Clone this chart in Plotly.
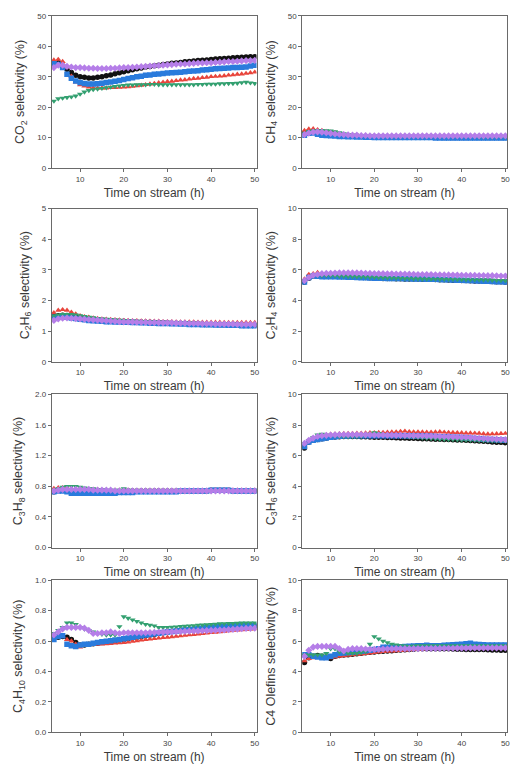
import plotly.graph_objects as go

hours = list(range(4, 51))

series_names = ["Catalyst A", "Catalyst B", "Catalyst C", "Catalyst D", "Catalyst E"]
series_colors = ["#111111", "#e8453c", "#2a7bdc", "#33a070", "#b57ee8"]
series_symbols = ["circle", "triangle-up", "square", "triangle-down", "diamond"]

# ---- CO2 selectivity (%)
co2_black = [34.5,34.6,33.6,32.5,31.4,30.5,30.0,29.8,29.6,29.6,
             29.8,30.0,30.3,30.6,31.0,31.3,31.6,32.0,32.3,32.6,
             32.9,33.2,33.4,33.6,33.8,34.0,34.2,34.4,34.5,34.7,
             34.9,35.0,35.2,35.3,35.4,35.5,35.7,35.8,35.9,36.0,
             36.1,36.2,36.3,36.4,36.5,36.6,36.6]
co2_red = [35.5,35.7,35.0,33.2,30.2,28.2,27.3,26.9,26.6,26.4,
           26.3,26.3,26.3,26.4,26.4,26.5,26.6,26.7,26.8,27.0,
           27.2,27.4,27.6,27.8,28.0,28.2,28.4,28.5,28.7,28.9,
           29.0,29.2,29.4,29.5,29.7,29.8,30.0,30.1,30.2,30.3,
           30.5,30.6,30.8,30.9,31.1,31.3,31.5]
co2_blue = [34.3,34.0,33.0,30.8,29.5,28.6,28.1,27.8,27.6,27.6,
            27.7,27.9,28.1,28.3,28.5,28.8,29.1,29.4,29.7,30.0,
            30.2,30.5,30.6,30.8,30.9,31.1,31.2,31.3,31.4,31.5,
            31.6,31.8,31.9,32.0,32.2,32.3,32.5,32.6,32.7,32.8,
            32.9,33.0,33.0,33.1,33.2,33.5,33.8]
co2_green = [22.0,22.8,23.0,23.2,23.4,23.7,24.3,25.0,25.5,25.8,
             26.0,26.2,26.4,26.6,26.8,27.0,27.2,27.3,27.3,27.4,
             27.4,27.4,27.5,27.5,27.4,27.4,27.4,27.4,27.4,27.4,
             27.4,27.4,27.4,27.5,27.5,27.6,27.6,27.6,27.7,27.7,
             27.8,27.8,27.9,28.1,28.2,28.0,27.8]
co2_purple = [33.0,33.8,33.8,33.4,33.2,33.0,33.0,32.9,32.8,32.8,
              32.7,32.7,32.7,32.8,32.8,32.9,33.0,33.0,33.1,33.2,
              33.3,33.4,33.5,33.6,33.7,33.8,33.9,34.0,34.1,34.2,
              34.2,34.3,34.4,34.5,34.5,34.6,34.6,34.7,34.8,34.9,
              35.0,35.0,35.1,35.2,35.3,35.3,35.4]

# ---- CH4 selectivity (%)
ch4_black = [11.6,12.0,12.1,12.0,11.8,11.6,11.4,11.2,11.0,10.8,
             10.7,10.6,10.5,10.4,10.3,10.3,10.2,10.2,10.2,10.1,
             10.1,10.1,10.1,10.1,10.1,10.1,10.1,10.1,10.1,10.1,
             10.1,10.1,10.0,10.0,10.0,10.0,10.0,10.0,10.0,10.0,
             10.0,10.0,10.0,10.0,10.0,10.0,10.0]
ch4_red = [12.3,12.8,12.9,12.6,12.3,12.0,11.8,11.6,11.3,11.1,
           10.9,10.8,10.7,10.6,10.6,10.5,10.5,10.5,10.4,10.4,
           10.4,10.4,10.3,10.3,10.3,10.3,10.3,10.3,10.3,10.3,
           10.3,10.3,10.3,10.3,10.3,10.3,10.3,10.3,10.3,10.3,
           10.3,10.3,10.3,10.3,10.3,10.3,10.3]
ch4_blue = [10.8,11.4,11.5,11.1,10.8,10.7,10.6,10.5,10.4,10.4,
            10.3,10.3,10.2,10.2,10.1,10.1,10.0,10.0,10.0,10.0,
            10.0,10.0,10.0,10.0,10.0,10.0,10.0,10.0,10.0,10.0,
            9.9,9.9,9.9,9.9,9.9,9.9,9.9,9.9,9.9,9.9,
            9.9,9.9,9.9,9.9,9.9,9.9,9.9]
ch4_green = [11.5,12.0,12.3,12.4,12.4,12.3,12.2,12.0,11.6,11.3,
             11.0,10.8,10.7,10.6,10.5,10.5,10.5,10.4,10.4,10.4,
             10.3,10.3,10.3,10.3,10.3,10.3,10.3,10.3,10.3,10.3,
             10.3,10.3,10.3,10.3,10.3,10.3,10.3,10.3,10.3,10.3,
             10.2,10.2,10.2,10.2,10.2,10.2,10.2]
ch4_purple = [11.0,11.5,11.8,11.9,11.8,11.6,11.4,11.2,11.1,11.0,
              10.9,10.8,10.8,10.7,10.7,10.6,10.6,10.6,10.6,10.6,
              10.6,10.6,10.6,10.6,10.6,10.6,10.6,10.6,10.6,10.6,
              10.6,10.6,10.6,10.6,10.6,10.6,10.6,10.6,10.6,10.6,
              10.6,10.6,10.6,10.6,10.6,10.6,10.6]

# ---- C2H6 selectivity (%)
c2h6_black = [1.48,1.50,1.52,1.51,1.49,1.47,1.45,1.43,1.41,1.39,
              1.37,1.36,1.35,1.34,1.33,1.32,1.32,1.31,1.31,1.30,
              1.30,1.29,1.29,1.28,1.28,1.27,1.27,1.26,1.26,1.25,
              1.25,1.24,1.24,1.23,1.23,1.22,1.22,1.22,1.21,1.21,
              1.21,1.20,1.20,1.20,1.19,1.19,1.19]
c2h6_red = [1.60,1.68,1.70,1.68,1.62,1.56,1.50,1.47,1.45,1.43,
            1.41,1.40,1.39,1.38,1.37,1.36,1.35,1.35,1.34,1.34,
            1.33,1.33,1.32,1.32,1.32,1.31,1.31,1.31,1.30,1.30,
            1.30,1.30,1.30,1.29,1.29,1.29,1.29,1.29,1.29,1.28,
            1.28,1.28,1.28,1.28,1.28,1.28,1.28]
c2h6_blue = [1.45,1.46,1.46,1.45,1.43,1.41,1.39,1.37,1.35,1.34,
             1.33,1.32,1.31,1.31,1.30,1.30,1.29,1.29,1.28,1.28,
             1.27,1.27,1.26,1.26,1.25,1.25,1.25,1.24,1.24,1.23,
             1.23,1.22,1.22,1.22,1.21,1.21,1.21,1.20,1.20,1.20,
             1.19,1.19,1.19,1.18,1.18,1.18,1.18]
c2h6_green = [1.50,1.53,1.55,1.55,1.55,1.53,1.51,1.48,1.46,1.44,
              1.42,1.40,1.39,1.38,1.37,1.36,1.35,1.34,1.33,1.32,
              1.32,1.31,1.30,1.30,1.29,1.28,1.28,1.27,1.27,1.26,
              1.26,1.26,1.25,1.25,1.25,1.24,1.24,1.24,1.23,1.23,
              1.23,1.23,1.22,1.22,1.22,1.22,1.22]
c2h6_purple = [1.35,1.40,1.42,1.43,1.42,1.41,1.40,1.39,1.38,1.37,
               1.36,1.35,1.34,1.33,1.32,1.31,1.30,1.30,1.30,1.29,
               1.29,1.29,1.28,1.28,1.28,1.27,1.27,1.27,1.26,1.26,
               1.26,1.25,1.25,1.25,1.24,1.24,1.24,1.23,1.23,1.23,
               1.23,1.23,1.22,1.22,1.22,1.22,1.22]

# ---- C2H4 selectivity (%)
c2h4_black = [5.20,5.45,5.60,5.62,5.62,5.61,5.60,5.59,5.58,5.57,
              5.56,5.55,5.54,5.52,5.50,5.48,5.46,5.45,5.44,5.43,
              5.43,5.42,5.42,5.41,5.41,5.40,5.40,5.39,5.39,5.38,
              5.37,5.36,5.35,5.34,5.33,5.32,5.31,5.30,5.29,5.28,
              5.27,5.26,5.25,5.24,5.23,5.22,5.20]
c2h4_red = [5.40,5.70,5.75,5.82,5.75,5.70,5.66,5.64,5.62,5.60,
            5.58,5.56,5.55,5.54,5.52,5.50,5.49,5.48,5.47,5.46,
            5.45,5.44,5.43,5.42,5.41,5.40,5.40,5.39,5.39,5.38,
            5.38,5.37,5.37,5.36,5.36,5.35,5.35,5.34,5.34,5.33,
            5.33,5.32,5.32,5.31,5.31,5.30,5.30]
c2h4_blue = [5.20,5.50,5.60,5.58,5.55,5.55,5.55,5.55,5.54,5.53,
             5.52,5.51,5.50,5.49,5.48,5.47,5.46,5.45,5.45,5.44,
             5.44,5.43,5.43,5.42,5.42,5.41,5.40,5.40,5.39,5.39,
             5.38,5.37,5.36,5.35,5.34,5.33,5.32,5.31,5.30,5.29,
             5.27,5.26,5.25,5.24,5.23,5.22,5.20]
c2h4_green = [5.30,5.50,5.60,5.62,5.62,5.62,5.61,5.60,5.59,5.58,
              5.57,5.56,5.55,5.54,5.53,5.52,5.51,5.50,5.49,5.48,
              5.47,5.46,5.45,5.44,5.43,5.42,5.42,5.41,5.41,5.40,
              5.40,5.39,5.39,5.38,5.38,5.37,5.37,5.36,5.36,5.35,
              5.35,5.34,5.34,5.33,5.32,5.31,5.30]
c2h4_purple = [5.30,5.50,5.65,5.70,5.75,5.77,5.78,5.79,5.80,5.80,
               5.80,5.80,5.80,5.79,5.78,5.77,5.76,5.75,5.75,5.74,
               5.74,5.73,5.73,5.72,5.72,5.71,5.70,5.70,5.69,5.69,
               5.68,5.68,5.67,5.67,5.66,5.66,5.65,5.65,5.64,5.64,
               5.63,5.63,5.62,5.62,5.61,5.60,5.60]

# ---- C3H8 selectivity (%)
c3h8_black = [0.73,0.75,0.75,0.75,0.74,0.74,0.74,0.74,0.74,0.74,
              0.74,0.74,0.73,0.73,0.73,0.73,0.74,0.74,0.74,0.74,
              0.74,0.74,0.74,0.74,0.74,0.74,0.74,0.74,0.74,0.74,
              0.74,0.74,0.74,0.74,0.74,0.74,0.75,0.75,0.75,0.75,
              0.75,0.74,0.74,0.74,0.74,0.74,0.74]
c3h8_red = [0.77,0.78,0.78,0.78,0.77,0.77,0.77,0.76,0.76,0.76,
            0.76,0.75,0.75,0.75,0.75,0.75,0.75,0.75,0.74,0.74,
            0.74,0.74,0.74,0.74,0.74,0.74,0.74,0.74,0.74,0.74,
            0.74,0.74,0.74,0.74,0.74,0.74,0.75,0.75,0.75,0.75,
            0.75,0.75,0.75,0.75,0.75,0.75,0.75]
c3h8_blue = [0.73,0.74,0.74,0.73,0.71,0.71,0.71,0.71,0.71,0.71,
             0.71,0.71,0.71,0.71,0.71,0.72,0.72,0.72,0.72,0.73,
             0.73,0.73,0.73,0.73,0.73,0.73,0.73,0.73,0.73,0.74,
             0.74,0.74,0.74,0.74,0.74,0.74,0.75,0.75,0.75,0.75,
             0.75,0.74,0.74,0.74,0.74,0.74,0.74]
c3h8_green = [0.75,0.77,0.79,0.80,0.80,0.80,0.79,0.78,0.77,0.77,
              0.76,0.76,0.75,0.75,0.75,0.75,0.77,0.75,0.74,0.74,
              0.74,0.74,0.74,0.74,0.74,0.74,0.74,0.74,0.74,0.74,
              0.74,0.74,0.74,0.74,0.74,0.74,0.74,0.74,0.74,0.74,
              0.74,0.74,0.74,0.74,0.74,0.74,0.74]
c3h8_purple = [0.74,0.75,0.76,0.76,0.76,0.76,0.76,0.76,0.76,0.75,
               0.75,0.75,0.75,0.75,0.74,0.74,0.74,0.74,0.74,0.74,
               0.74,0.74,0.74,0.74,0.74,0.74,0.74,0.74,0.74,0.74,
               0.74,0.74,0.74,0.74,0.74,0.74,0.74,0.74,0.74,0.74,
               0.74,0.74,0.74,0.74,0.74,0.74,0.74]

# ---- C3H6 selectivity (%)
c3h6_black = [6.50,6.90,7.00,7.05,7.10,7.15,7.20,7.22,7.24,7.25,
              7.25,7.25,7.25,7.24,7.23,7.22,7.21,7.20,7.20,7.19,
              7.18,7.17,7.16,7.15,7.14,7.13,7.12,7.11,7.10,7.09,
              7.08,7.07,7.06,7.05,7.04,7.03,7.02,7.00,6.99,6.98,
              6.96,6.94,6.92,6.90,6.88,6.87,6.85]
c3h6_red = [6.70,6.95,7.10,7.20,7.30,7.35,7.40,7.42,7.43,7.44,
            7.45,7.45,7.46,7.47,7.48,7.50,7.50,7.51,7.52,7.53,
            7.54,7.55,7.58,7.60,7.57,7.55,7.55,7.54,7.53,7.53,
            7.54,7.56,7.53,7.52,7.51,7.50,7.49,7.48,7.48,7.47,
            7.46,7.43,7.41,7.42,7.43,7.44,7.45]
c3h6_blue = [6.60,6.90,7.00,7.05,7.10,7.15,7.20,7.24,7.26,7.28,
             7.29,7.30,7.30,7.30,7.30,7.30,7.30,7.30,7.30,7.30,
             7.30,7.30,7.30,7.30,7.29,7.29,7.28,7.28,7.27,7.26,
             7.25,7.24,7.23,7.22,7.21,7.20,7.18,7.16,7.14,7.12,
             7.10,7.08,7.06,7.05,7.04,7.02,7.00]
c3h6_green = [6.80,7.00,7.20,7.35,7.40,7.35,7.30,7.28,7.26,7.25,
              7.25,7.25,7.25,7.26,7.30,7.40,7.50,7.45,7.38,7.34,
              7.30,7.28,7.26,7.24,7.22,7.20,7.18,7.16,7.14,7.12,
              7.10,7.08,7.07,7.06,7.05,7.04,7.03,7.02,7.01,7.00,
              6.99,6.98,6.97,6.96,6.96,6.95,6.95]
c3h6_purple = [6.80,7.00,7.15,7.25,7.30,7.33,7.35,7.36,7.37,7.37,
               7.37,7.37,7.37,7.37,7.36,7.36,7.35,7.35,7.35,7.34,
               7.34,7.33,7.33,7.32,7.32,7.31,7.30,7.30,7.29,7.28,
               7.27,7.26,7.25,7.24,7.23,7.22,7.21,7.20,7.18,7.16,
               7.14,7.12,7.10,7.09,7.08,7.06,7.05]

# ---- C4H10 selectivity (%)
c4h10_black = [0.620,0.625,0.630,0.625,0.610,0.590,0.575,0.575,0.580,0.583,
               0.586,0.590,0.594,0.598,0.602,0.606,0.610,0.615,0.620,0.625,
               0.630,0.635,0.640,0.645,0.650,0.655,0.660,0.663,0.666,0.669,
               0.672,0.675,0.678,0.681,0.684,0.687,0.690,0.692,0.694,0.696,
               0.698,0.700,0.700,0.700,0.700,0.700,0.700]
c4h10_red = [0.620,0.630,0.630,0.610,0.600,0.580,0.560,0.570,0.575,0.577,
             0.578,0.580,0.582,0.584,0.586,0.588,0.590,0.594,0.598,0.602,
             0.606,0.610,0.613,0.616,0.619,0.622,0.625,0.628,0.631,0.634,
             0.637,0.640,0.643,0.646,0.649,0.652,0.655,0.658,0.661,0.664,
             0.667,0.670,0.672,0.674,0.676,0.678,0.680]
c4h10_blue = [0.610,0.630,0.635,0.580,0.570,0.565,0.575,0.580,0.580,0.585,
              0.590,0.595,0.599,0.603,0.607,0.611,0.615,0.620,0.625,0.630,
              0.635,0.640,0.644,0.648,0.652,0.656,0.660,0.663,0.666,0.669,
              0.672,0.675,0.678,0.681,0.684,0.687,0.690,0.692,0.694,0.696,
              0.698,0.700,0.700,0.700,0.700,0.700,0.700]
c4h10_green = [0.650,0.670,0.690,0.720,0.720,0.710,0.690,0.680,0.670,0.660,
               0.650,0.645,0.640,0.640,0.640,0.695,0.760,0.750,0.740,0.730,
               0.720,0.710,0.705,0.700,0.690,0.690,0.690,0.692,0.694,0.696,
               0.698,0.700,0.702,0.704,0.706,0.708,0.710,0.712,0.714,0.715,
               0.716,0.717,0.718,0.719,0.720,0.720,0.720]
c4h10_purple = [0.640,0.660,0.680,0.690,0.690,0.690,0.690,0.685,0.670,0.650,
                0.650,0.655,0.655,0.660,0.655,0.650,0.655,0.655,0.655,0.655,
                0.655,0.655,0.656,0.657,0.658,0.659,0.660,0.661,0.662,0.663,
                0.664,0.665,0.666,0.667,0.668,0.669,0.670,0.671,0.672,0.673,
                0.675,0.677,0.679,0.681,0.683,0.684,0.685]

# ---- C4 olefins selectivity (%)
c4ol_black = [4.60,4.90,5.00,5.05,5.00,4.95,4.85,5.00,5.05,5.08,
              5.11,5.14,5.17,5.20,5.23,5.26,5.29,5.31,5.33,5.35,
              5.37,5.39,5.41,5.43,5.45,5.47,5.49,5.50,5.50,5.50,
              5.50,5.50,5.50,5.49,5.48,5.47,5.46,5.45,5.45,5.45,
              5.45,5.44,5.43,5.42,5.41,5.40,5.40]
c4ol_red = [4.70,4.85,4.90,4.92,4.94,4.95,4.90,4.95,5.00,5.03,
            5.06,5.09,5.12,5.15,5.18,5.21,5.24,5.27,5.30,5.32,
            5.34,5.36,5.38,5.40,5.42,5.44,5.46,5.48,5.50,5.51,
            5.52,5.53,5.54,5.55,5.55,5.55,5.55,5.55,5.55,5.55,
            5.55,5.55,5.55,5.55,5.55,5.55,5.55]
c4ol_blue = [5.10,5.10,5.00,4.95,4.90,4.90,5.00,5.10,5.20,5.22,
             5.25,5.28,5.31,5.34,5.37,5.40,5.45,5.50,5.60,5.60,
             5.60,5.60,5.62,5.64,5.66,5.68,5.70,5.70,5.72,5.70,
             5.70,5.70,5.72,5.74,5.76,5.78,5.80,5.82,5.85,5.80,
             5.78,5.76,5.75,5.75,5.75,5.75,5.75]
c4ol_green = [5.10,5.10,5.10,5.10,5.10,5.20,5.50,5.50,5.30,5.25,
              5.20,5.20,5.20,5.25,5.30,5.80,6.30,6.15,6.00,5.90,
              5.80,5.75,5.70,5.68,5.65,5.68,5.70,5.70,5.70,5.70,
              5.70,5.70,5.70,5.70,5.70,5.70,5.70,5.70,5.70,5.70,
              5.70,5.70,5.70,5.70,5.70,5.70,5.70]
c4ol_purple = [5.00,5.40,5.60,5.65,5.65,5.65,5.65,5.65,5.50,5.35,
               5.45,5.50,5.50,5.50,5.48,5.46,5.45,5.46,5.47,5.48,
               5.49,5.50,5.50,5.50,5.50,5.50,5.50,5.51,5.51,5.52,
               5.52,5.52,5.53,5.53,5.53,5.54,5.54,5.54,5.55,5.55,
               5.55,5.55,5.55,5.55,5.55,5.55,5.55]

panel_titles = ["CO<sub>2</sub> selectivity (%)", "CH<sub>4</sub> selectivity (%)",
                "C<sub>2</sub>H<sub>6</sub> selectivity (%)", "C<sub>2</sub>H<sub>4</sub> selectivity (%)",
                "C<sub>3</sub>H<sub>8</sub> selectivity (%)", "C<sub>3</sub>H<sub>6</sub> selectivity (%)",
                "C<sub>4</sub>H<sub>10</sub> selectivity (%)", "C4 Olefins selectivity (%)"]
panel_data = [
    [co2_black, co2_red, co2_blue, co2_green, co2_purple],
    [ch4_black, ch4_red, ch4_blue, ch4_green, ch4_purple],
    [c2h6_black, c2h6_red, c2h6_blue, c2h6_green, c2h6_purple],
    [c2h4_black, c2h4_red, c2h4_blue, c2h4_green, c2h4_purple],
    [c3h8_black, c3h8_red, c3h8_blue, c3h8_green, c3h8_purple],
    [c3h6_black, c3h6_red, c3h6_blue, c3h6_green, c3h6_purple],
    [c4h10_black, c4h10_red, c4h10_blue, c4h10_green, c4h10_purple],
    [c4ol_black, c4ol_red, c4ol_blue, c4ol_green, c4ol_purple],
]
y_ranges = [[0, 50], [0, 50], [0, 5], [0, 10], [0, 2], [0, 10], [0, 1], [0, 10]]
y_dticks = [10, 10, 1, 2, 0.4, 2, 0.2, 2]
y_formats = ["d", "d", "d", "d", ".1f", "d", ".1f", "d"]
x_ticks = [10, 20, 30, 40, 50]

W, H = 525, 772
col_px = [(52, 258), (304, 510)]
row_px = [(12, 166), (207, 362), (395, 550), (583, 737)]

fig = go.Figure()
layout = dict(width=W, height=H, margin=dict(l=0, r=0, t=0, b=0),
              paper_bgcolor="white", plot_bgcolor="white", showlegend=False,
              font=dict(family="Liberation Sans, Arial, sans-serif", color="#333333"))

axis_line = "#6a6a6a"
for i in range(8):
    r, c = divmod(i, 2)
    n = i + 1
    xa = "xaxis" if n == 1 else f"xaxis{n}"
    ya = "yaxis" if n == 1 else f"yaxis{n}"
    xref = "x" if n == 1 else f"x{n}"
    yref = "y" if n == 1 else f"y{n}"
    x0, x1 = col_px[c]
    t0, t1 = row_px[r]
    layout[xa] = dict(domain=[x0 / W, x1 / W], anchor=yref, range=[3.5, 50.4],
                      tickvals=x_ticks, ticks="outside", ticklen=3, tickwidth=1,
                      tickcolor=axis_line, showline=True, linecolor=axis_line,
                      linewidth=1, mirror=True, showgrid=False, zeroline=False,
                      tickfont=dict(size=8, color="#444444"),
                      title=dict(text="Time on stream (h)", standoff=5,
                                 font=dict(size=12, color="#3a3a3a")))
    layout[ya] = dict(domain=[1 - t1 / H, 1 - t0 / H], anchor=xref, range=y_ranges[i],
                      dtick=y_dticks[i], tick0=0, tickformat=y_formats[i],
                      ticks="outside", ticklen=3, tickwidth=1, tickcolor=axis_line,
                      showline=True, linecolor=axis_line, linewidth=1, mirror=True,
                      showgrid=False, zeroline=False,
                      tickfont=dict(size=8, color="#444444"),
                      title=dict(text=panel_titles[i], standoff=9,
                                 font=dict(size=12.5, color="#3a3a3a")))
    for s in range(5):
        fig.add_trace(go.Scatter(
            x=hours, y=panel_data[i][s], mode="markers", name=series_names[s],
            xaxis=xref, yaxis=yref,
            marker=dict(symbol=series_symbols[s], color=series_colors[s], size=5.5,
                        line=dict(width=0)),
            cliponaxis=True))

fig.update_layout(**layout)
# remove the browser's default 8 px body margin so the figure sits at the page corner
fig.write_html("out.html", config={"displayModeBar": False},
               post_script="document.body.style.margin='0';document.body.style.overflow='hidden';")
